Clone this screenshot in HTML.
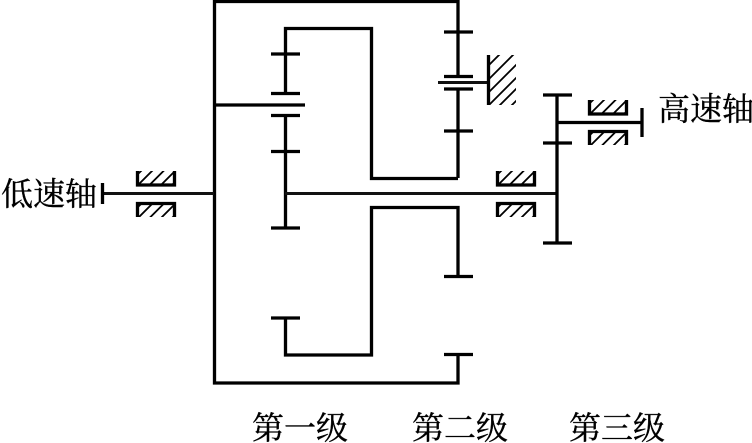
<!DOCTYPE html>
<html>
<head>
<meta charset="utf-8">
<style>
html,body{margin:0;padding:0;background:#fff;width:752px;height:443px;overflow:hidden}
svg{display:block}
text{font-family:"Liberation Serif","Noto Serif CJK SC",serif;font-size:32px;fill:#000;stroke:#000;stroke-width:.35}
.t{stroke:#000;stroke-width:3.3;fill:none}
.n{stroke:#111;stroke-width:3;fill:none}
.h{stroke:#000;stroke-width:1.8;fill:none}
</style>
</head>
<body>
<svg width="752" height="443" viewBox="0 0 752 443" xmlns="http://www.w3.org/2000/svg">
<defs>
<clipPath id="c1"><rect x="136" y="171" width="40" height="14"/></clipPath>
<clipPath id="c2"><rect x="136" y="204" width="40" height="13"/></clipPath>
<clipPath id="c3"><rect x="496" y="171" width="40" height="14"/></clipPath>
<clipPath id="c4"><rect x="496" y="204" width="40" height="13"/></clipPath>
<clipPath id="c5"><rect x="588" y="100" width="40" height="14"/></clipPath>
<clipPath id="c6"><rect x="588" y="132" width="40" height="13"/></clipPath>
<clipPath id="c7"><rect x="489" y="55" width="27" height="50"/></clipPath>
<g id="hs" class="h">
<path d="M-10 16L6 0M1 16L17 0M12.500 16L28.500 0M24 16L40 0M35 16L51 0"/>
</g>
</defs>

<!-- outer carrier -->
<path class="t" d="M458 1.500H214.500V383H458V354"/>
<path class="t" d="M214.500 105H305"/>
<!-- sun/planet -->
<path class="t" d="M285.500 93V28.500H371.500V178.500H458"/>
<path class="t" d="M458 0V76M458 89V178"/>
<path class="t" d="M285.500 115V228"/>
<path class="t" d="M458 276V207.500H371.500V355H285.500V318"/>

<!-- gear ticks -->
<path class="t" d="M271 54H300M271 93.500H300M271 115.500H300M271 151.500H300M271 228H300M271 318H300"/>
<path class="t" d="M444 32H473M444 76.500H473M444 89H473M444 131H473M444 276.500H473M444 354.500H473"/>
<path class="t" d="M543 95H572M543 143H572M543 243H572"/>

<!-- shafts -->
<path class="n" d="M102 193.500H214M285 193.500H557"/>
<path class="t" d="M102.500 183V204"/>
<path class="t" d="M557 95V243"/>
<path class="t" d="M557 122.500H642M642 108V137"/>

<!-- fixed support -->
<path class="n" d="M438 82.500H488"/>
<path class="t" d="M488.500 55V105"/>
<g clip-path="url(#c7)" class="h" style="stroke-width:1.8">
<path d="M480 74L500 54M480 88L515 53M480 101L530 51M480 114L530 64M490 115L530 75M502 115L530 87"/>
</g>

<!-- bearings -->
<path class="t" d="M137.500 171V185H174.500V171"/>
<path class="t" d="M137.500 217V203.500H174.500V217"/>
<g clip-path="url(#c1)"><use href="#hs" x="136" y="170"/></g>
<g clip-path="url(#c2)"><use href="#hs" x="136" y="203"/></g>

<path class="t" d="M497.500 171V185H534.500V171"/>
<path class="t" d="M497.500 217V203.500H534.500V217"/>
<g clip-path="url(#c3)"><use href="#hs" x="496" y="170"/></g>
<g clip-path="url(#c4)"><use href="#hs" x="496" y="203"/></g>

<path class="t" d="M589.500 100V114H626.500V100"/>
<path class="t" d="M589.500 145V131.500H626.500V145"/>
<g clip-path="url(#c5)"><use href="#hs" x="588" y="99"/></g>
<g clip-path="url(#c6)"><use href="#hs" x="588" y="131"/></g>

<!-- labels -->
<text x="1" y="205">低速轴</text>
<text x="658" y="120">高速轴</text>
<text x="252" y="439">第一级</text>
<text x="412" y="439">第二级</text>
<text x="569" y="439">第三级</text>
</svg>
</body>
</html>
